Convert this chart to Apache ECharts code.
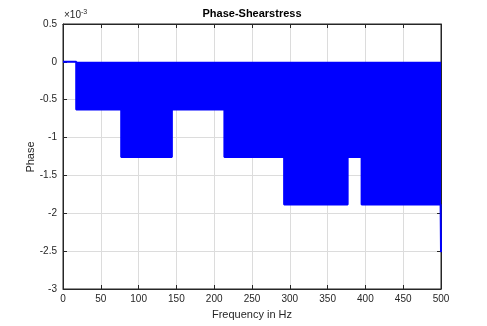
<!DOCTYPE html>
<html><head><meta charset="utf-8">
<script src="https://cdn.jsdelivr.net/npm/echarts@6/dist/echarts.min.js"></script>
<style>html,body{margin:0;padding:0;background:#fff}#c{width:487px;height:326px}</style>
</head><body><div id="c"></div>
<script>
// Step breakpoints (Hz) and phase levels (x10^-3 rad)
const freqHz = [0, 17.5, 77, 144, 213.5, 292.5, 376.5, 395, 499.5, 500];
const phaseE3 = [0, -0.628, -1.257, -0.628, -1.257, -1.885, -1.257, -1.885, -1.885, -2.513];
const xTicks = [0, 50, 100, 150, 200, 250, 300, 350, 400, 450, 500];
const yTicks = [-3, -2.5, -2, -1.5, -1, -0.5, 0, 0.5];

const data = freqHz.map((f, i) => [f, phaseE3[i]]);
const font = 'Liberation Sans, Arial, Helvetica, sans-serif';
const chart = echarts.init(document.getElementById('c'), null, {renderer: 'canvas'});
const axisCommon = {
  axisLine: {show: true, onZero: false, lineStyle: {color: '#262626', width: 1}},
  axisTick: {show: true, inside: true, length: 4, lineStyle: {color: '#262626'}},
  splitLine: {show: true, lineStyle: {color: '#dcdcdc', width: 1}},
};
chart.setOption({
  animation: false,
  backgroundColor: '#fff',
  grid: {left: 63, right: 46, top: 24, bottom: 37, show: true, borderColor: '#262626', borderWidth: 1, backgroundColor: 'transparent'},
  graphic: [{type: 'text', left: 64, top: 9, style: {
    text: '{a|×10}{b|-3}', fill: '#262626',
    rich: {a: {fontFamily: font, fontSize: 10, fill: '#262626'}, b: {fontFamily: font, fontSize: 7, fill: '#262626', verticalAlign: 'top', padding: [0, 0, 6, 0]}}
  }}, {type: 'text', x: 252, y: 14, style: {
    text: 'Phase-Shearstress', fontFamily: font, fontSize: 11, fontWeight: 'bold', fill: '#000',
    align: 'center', verticalAlign: 'middle'
  }}, {type: 'text', x: 31, y: 157, rotation: Math.PI / 2, style: {
    text: 'Phase', fontFamily: font, fontSize: 11, fill: '#262626',
    align: 'center', verticalAlign: 'middle'
  }}],
  xAxis: [Object.assign({}, axisCommon, {
    type: 'value', min: 0, max: 500, interval: 50,
    name: 'Frequency in Hz', nameLocation: 'middle', nameGap: 20,
    nameTextStyle: {fontFamily: font, fontSize: 11, color: '#262626'},
    axisLabel: {fontFamily: font, fontSize: 10, color: '#262626', margin: 5,
      formatter: v => xTicks.includes(v) ? String(v) : ''}
  }), Object.assign({}, axisCommon, {
    type: 'value', position: 'top', min: 0, max: 500, interval: 50,
    axisLabel: {show: false}, splitLine: {show: false}
  })],
  yAxis: [Object.assign({}, axisCommon, {
    type: 'value', min: -3, max: 0.5, interval: 0.5,
    axisLabel: {fontFamily: font, fontSize: 10, color: '#262626', margin: 6,
      formatter: v => yTicks.includes(v) ? String(v) : ''}
  }), Object.assign({}, axisCommon, {
    type: 'value', position: 'right', min: -3, max: 0.5, interval: 0.5,
    axisLabel: {show: false}, splitLine: {show: false}
  })],
  series: [{
    type: 'line', step: 'end', data: data, symbol: 'none',
    lineStyle: {color: '#0000ff', width: 2},
    areaStyle: {color: '#0000ff', opacity: 1, origin: 0},
    z: 3
  }]
});
</script></body></html>
